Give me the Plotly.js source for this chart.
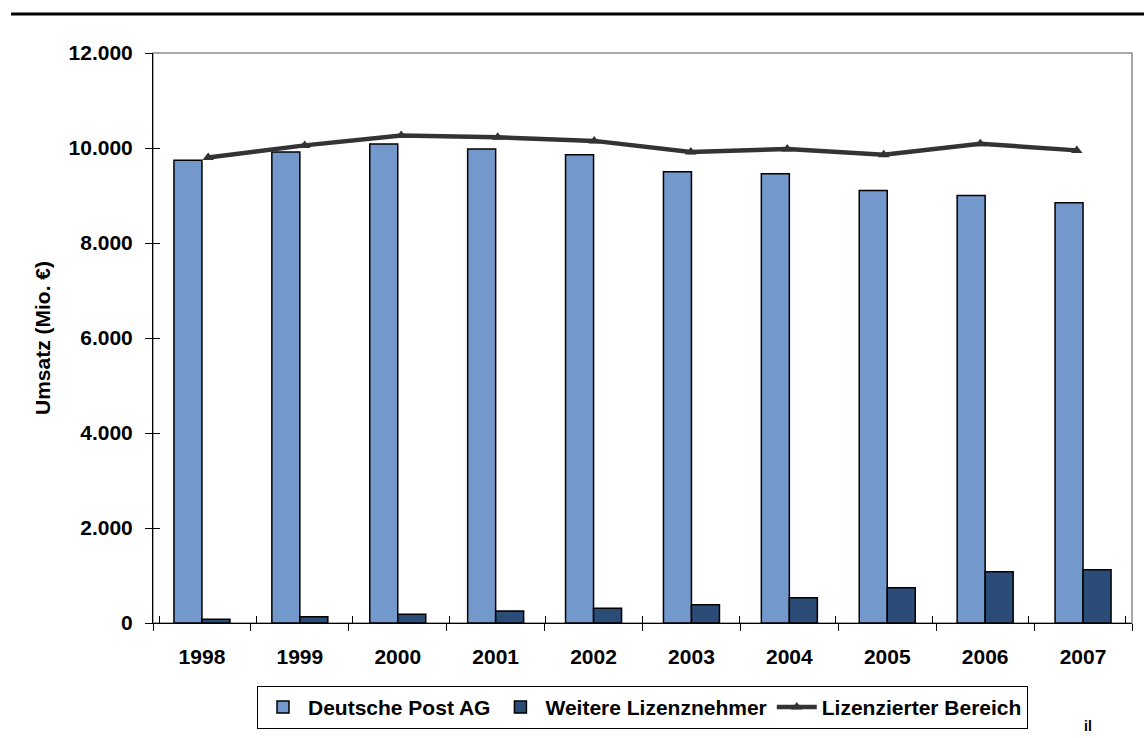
<!DOCTYPE html>
<html>
<head>
<meta charset="utf-8">
<script src="https://cdn.plot.ly/plotly-3.0.1.min.js"></script>
<style>
html,body{margin:0;padding:0;background:#fff;}
#chart{width:1144px;height:738px;}
</style>
</head>
<body>
<div id="chart"></div>
<script>
const years = ['1998','1999','2000','2001','2002','2003','2004','2005','2006','2007'];
const deutschePost = [9740, 9915, 10085, 9980, 9860, 9500, 9458, 9107, 9002, 8848];
const weitere = [80, 133, 183, 253, 310, 385, 533, 744, 1081, 1123];
const lizenziert = [9800, 10055, 10265, 10225, 10150, 9916, 9979, 9859, 10090, 9950];
const yTicks = [0, 2000, 4000, 6000, 8000, 10000, 12000];

const FONT = 'Liberation Sans, Arial, sans-serif';
const FS = 21;

const traces = [
  {type:'bar', name:'Deutsche Post AG', x:years, y:deutschePost,
   marker:{color:'#7399CC', line:{color:'#000', width:1.5}}},
  {type:'bar', name:'Weitere Lizenznehmer', x:years, y:weitere,
   marker:{color:'#2B4C76', line:{color:'#000', width:1.5}}},
  {type:'scatter', mode:'lines+markers', name:'Lizenzierter Bereich', x:years, y:lizenziert,
   xaxis:'x2', yaxis:'y2',
   line:{color:'#333333', width:4.5}, marker:{symbol:'triangle-up', size:10, color:'#333333'}}
];

const layout = {
  width:1144, height:738,
  margin:{l:153, r:12, t:53, b:115},
  paper_bgcolor:'#fff', plot_bgcolor:'#fff',
  separators:',.',
  font:{family:FONT, size:FS, color:'#000'},
  barmode:'group', bargap:0.428, bargroupgap:0,
  showlegend:true,
  legend:{orientation:'h', x:0.5, xanchor:'center', xref:'paper',
          y:0.0705, yanchor:'top', yref:'container',
          bordercolor:'#000', borderwidth:1, font:{family:FONT, size:FS, weight:'bold', color:'#000'},
          traceorder:'normal', itemwidth:40, tracegroupgap:0},
  xaxis:{type:'category', showline:true, linecolor:'#000', linewidth:1,
         ticks:'outside', ticklen:7, tickcolor:'#000', tickson:'boundaries',
         tickfont:{family:FONT, size:FS, weight:'bold'}, ticklabelstandoff:15,
         showgrid:false, zeroline:false, fixedrange:true, automargin:false},
  yaxis:{range:[0,12000], tickvals:yTicks, tickformat:',d', showline:true, linecolor:'#000', linewidth:1,
         ticks:'outside', ticklen:7, tickcolor:'#000',
         tickfont:{family:FONT, size:FS, weight:'bold'}, ticklabelstandoff:8,
         showgrid:false, zeroline:false, automargin:false,
         title:{text:'Umsatz (Mio. €)', font:{family:FONT, size:FS, weight:'bold'}, standoff:12}},
  xaxis2:{type:'category', overlaying:'x', side:'bottom', showline:false,
          ticks:'inside', ticklen:7, tickcolor:'#000', tickson:'boundaries',
          showticklabels:false, showgrid:false, zeroline:false},
  yaxis2:{range:[0,12000], overlaying:'y', side:'left', tickvals:yTicks, showline:false,
          ticks:'inside', ticklen:7, tickcolor:'#000', showticklabels:false,
          showgrid:false, zeroline:false},
  shapes:[
    {type:'rect', xref:'paper', yref:'paper', x0:0, x1:1, y0:0, y1:1,
     line:{color:'#8c8c8c', width:1.5}, layer:'below'},
    {type:'line', xref:'paper', yref:'paper', x0:-0.145, x1:1.02, y0:1.0684, y1:1.0684,
     line:{color:'#000', width:3}}
  ],
  annotations:[
    {text:'il', xref:'paper', yref:'paper', x:0.955, y:-0.198, xanchor:'center', yanchor:'bottom',
     showarrow:false, font:{family:FONT, size:14, weight:'bold', color:'#000'}}
  ]
};

Plotly.newPlot('chart', traces, layout, {displayModeBar:false, staticPlot:true});
</script>
</body>
</html>
